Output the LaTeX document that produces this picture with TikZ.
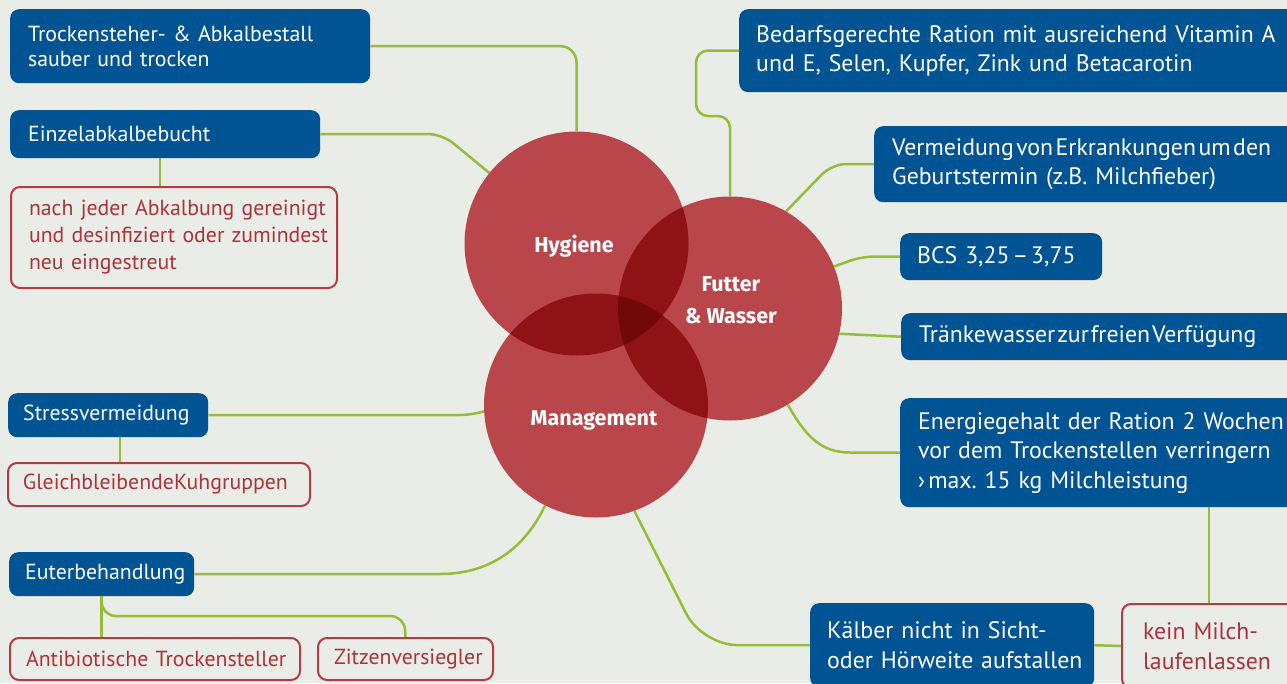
\documentclass[tikz,border=0pt]{standalone}
\usepackage{fontspec}
\setmainfont{PT Sans}[WordSpace=0.8]
\newfontfamily\circfont{Fira Sans}
\usetikzlibrary{calc}
\definecolor{bg}{RGB}{234,236,231}
\definecolor{boxblue}{RGB}{0,84,147}
\definecolor{lineg}{RGB}{150,189,55}
\definecolor{redline}{RGB}{178,60,66}
\definecolor{redtext}{RGB}{170,52,58}
\definecolor{cone}{RGB}{184,70,75}
\definecolor{ctwo}{RGB}{142,18,22}
\definecolor{cthree}{RGB}{112,10,10}
\newcommand\myline[1]{\mbox{#1}}
\frenchspacing
\begin{document}
\begin{tikzpicture}[x=1pt,y=-1pt,
  box/.style={rounded corners=9pt, inner xsep=18pt, inner ysep=0pt, align=left, anchor=north west},
  bluebox/.style={box, fill=boxblue, text=white},
  redbox/.style={box, draw=redline, line width=2pt, fill=bg, text=redtext},
  conn/.style={draw=lineg, line width=2.5pt},
  fsL/.style={font=\fontsize{21.8}{25}\selectfont},
  fsLr/.style={font=\fontsize{21.8}{27}\selectfont},
  fsR/.style={font=\fontsize{23.8}{29.5}\selectfont},
  ring/.style={circle, minimum size=224pt, inner sep=0pt},
  lbl/.style={text=white, align=center, inner sep=0pt, font=\circfont\bfseries\fontsize{21.5}{32}\selectfont}
]
\fill[bg] (0,0) rectangle (1287,683);
\useasboundingbox (0,0) rectangle (1287,683);
\clip (0,0) rectangle (1287,683);

% circle anchors
\coordinate (H) at (576.5,243.5);
\coordinate (F) at (730,308.5);
\coordinate (M) at (596,405.5);
\node[ring] (hyg) at (H) {};
\node[ring] (fut) at (F) {};
\node[ring] (mgmt) at (M) {};

% left boxes
\node[bluebox, fsL, minimum width=360pt, minimum height=74pt, text width=324pt] (b1) at (10,9)
  {\myline{Trockensteher- \& Abkalbestall}\\\myline{sauber und trocken}};
\node[bluebox, fsL, minimum width=310pt, minimum height=48pt, text width=274pt] (b2) at (10,110)
  {\myline{Einzelabkalbebucht}};
\node[redbox, fsLr, minimum width=326pt, minimum height=101pt, text width=290pt] (r1) at (10,186)
  {\myline{nach jeder Abkalbung gereinigt}\\\myline{und desinfiziert oder zumindest}\\\myline{neu eingestreut}};
\node[bluebox, fsL, minimum width=200pt, minimum height=44pt, text width=170pt, inner xsep=15pt] (b9) at (8,393)
  {\myline{Stressvermeidung}};
\node[redbox, fsL, minimum width=302pt, minimum height=43pt, text width=272pt, inner xsep=15pt] (r3) at (7,462)
  {\myline{GleichbleibendeKuhgruppen}};
\node[bluebox, fsL, minimum width=185pt, minimum height=44pt, text width=153pt, inner xsep=16pt] (b10) at (9,552)
  {\myline{Euterbehandlung}};
\node[redbox, fsL, minimum width=290pt, minimum height=42pt, text width=258pt, inner xsep=16pt] (r4) at (9,637)
  {\myline{Antibiotische Trockensteller}};
\node[redbox, fsL, minimum width=175pt, minimum height=42pt, text width=143pt, inner xsep=16pt] (r5) at (317,637)
  {\myline{Zitzenversiegler}};

% right boxes
\node[bluebox, fsR, minimum width=580pt, minimum height=83pt, text width=546pt, inner xsep=17pt] (b3) at (739,9)
  {\myline{Bedarfsgerechte Ration mit ausreichend Vitamin A}\\\myline{und E, Selen, Kupfer, Zink und Betacarotin}};
\node[bluebox, fsR, minimum width=446pt, minimum height=76pt, text width=410pt] (b4) at (874,126)
  {\myline{Vermeidung\kern2.5pt von\kern2.5pt Erkrankungen\kern2.5pt um\kern2.5pt den}\\\myline{Geburtstermin (z.B. Milchfieber)}};
\node[bluebox, fsR, minimum width=202pt, minimum height=47pt, text width=168pt, inner xsep=17pt] (b5) at (900,233)
  {\myline{BCS 3,25\kern3pt–\kern3pt3,75}};
\node[bluebox, fsR, minimum width=420pt, minimum height=47pt, text width=384pt] (b6) at (901,313)
  {\myline{Tränkewasser\kern2pt zur\kern2pt freien\kern2pt Verfügung}};
\node[bluebox, fsR, minimum width=420pt, minimum height=109pt, text width=384pt] (b7) at (900,398)
  {\myline{Energiegehalt der Ration 2 Wochen}\\\myline{vor dem Trockenstellen verringern}\\\myline{›\kern3pt max. 15 kg Milchleistung}};
\node[bluebox, fsR, minimum width=284pt, minimum height=84pt, text width=250pt, inner xsep=17pt] (b8) at (810,603)
  {\myline{Kälber nicht in Sicht-}\\\myline{oder Hörweite aufstallen}};
\node[redbox, fsR, minimum width=174pt, minimum height=84pt, text width=132pt, inner xsep=21pt] (r2) at (1121,603)
  {\myline{kein Milch-}\\\myline{laufenlassen}};

% connectors
\draw[conn, rounded corners=16pt] (b1.east) -| (hyg.north);
\draw[conn, rounded corners=14pt] (b2.east) -- (442,134) -- (hyg.141);
\draw[conn] ([xshift=-5pt]b2.south) -- ([xshift=-5pt]b2.south |- r1.north);
\draw[conn, rounded corners=12pt] (b3.west) -- (696,50.5) -- (696,116) -- (730,116) -- (fut.north);
\draw[conn, rounded corners=14pt] (b4.west) -- (832,164) -- (fut.60);
\draw[conn, rounded corners=12pt] (b5.west) -- (862,256.5) -- (fut.22);
\draw[conn] (b6.west) -- (fut.-13);
\draw[conn] (b7.west) -- (850,452.5) .. controls (820,452.5) and (805,435) .. (fut.-59);
\draw[conn] (r2.north |- b7.south) -- (r2.north);
\draw[conn] (b8.east) -- (r2.west);
\draw[conn, rounded corners=35pt] (mgmt.-70) -- (702,645) -- (b8.west);
\draw[conn, rounded corners=10pt] (b9.east) -- (470,415) -- (mgmt.183);
\draw[conn] ([xshift=12pt]b9.south) -- ([xshift=12pt]b9.south |- r3.north);
\draw[conn] (b10.east) -- (440,574) .. controls (490,574) and (525,548) .. (mgmt.-117);
\draw[conn] (b10.south) -- (b10.south |- r4.north);
\draw[conn, rounded corners=14pt] (b10.south) |- (404.5,616) -- (r5.north);

% circles
\fill[cone] (H) circle[radius=112];
\fill[cone] (F) circle[radius=112];
\fill[cone] (M) circle[radius=112];
\begin{scope}
  \clip (H) circle[radius=112];
  \fill[ctwo] (F) circle[radius=112];
  \fill[ctwo] (M) circle[radius=112];
\end{scope}
\begin{scope}
  \clip (F) circle[radius=112];
  \fill[ctwo] (M) circle[radius=112];
\end{scope}
\begin{scope}
  \clip (H) circle[radius=112];
  \clip (F) circle[radius=112];
  \fill[cthree] (M) circle[radius=112];
\end{scope}

\node[lbl] (hygT) at (574,246) {Hygiene};
\node[lbl] (futT) at (731,300) {Futter\\\& Wasser};
\node[lbl] (manT) at (594,420) {Management};
\end{tikzpicture}
\end{document}
